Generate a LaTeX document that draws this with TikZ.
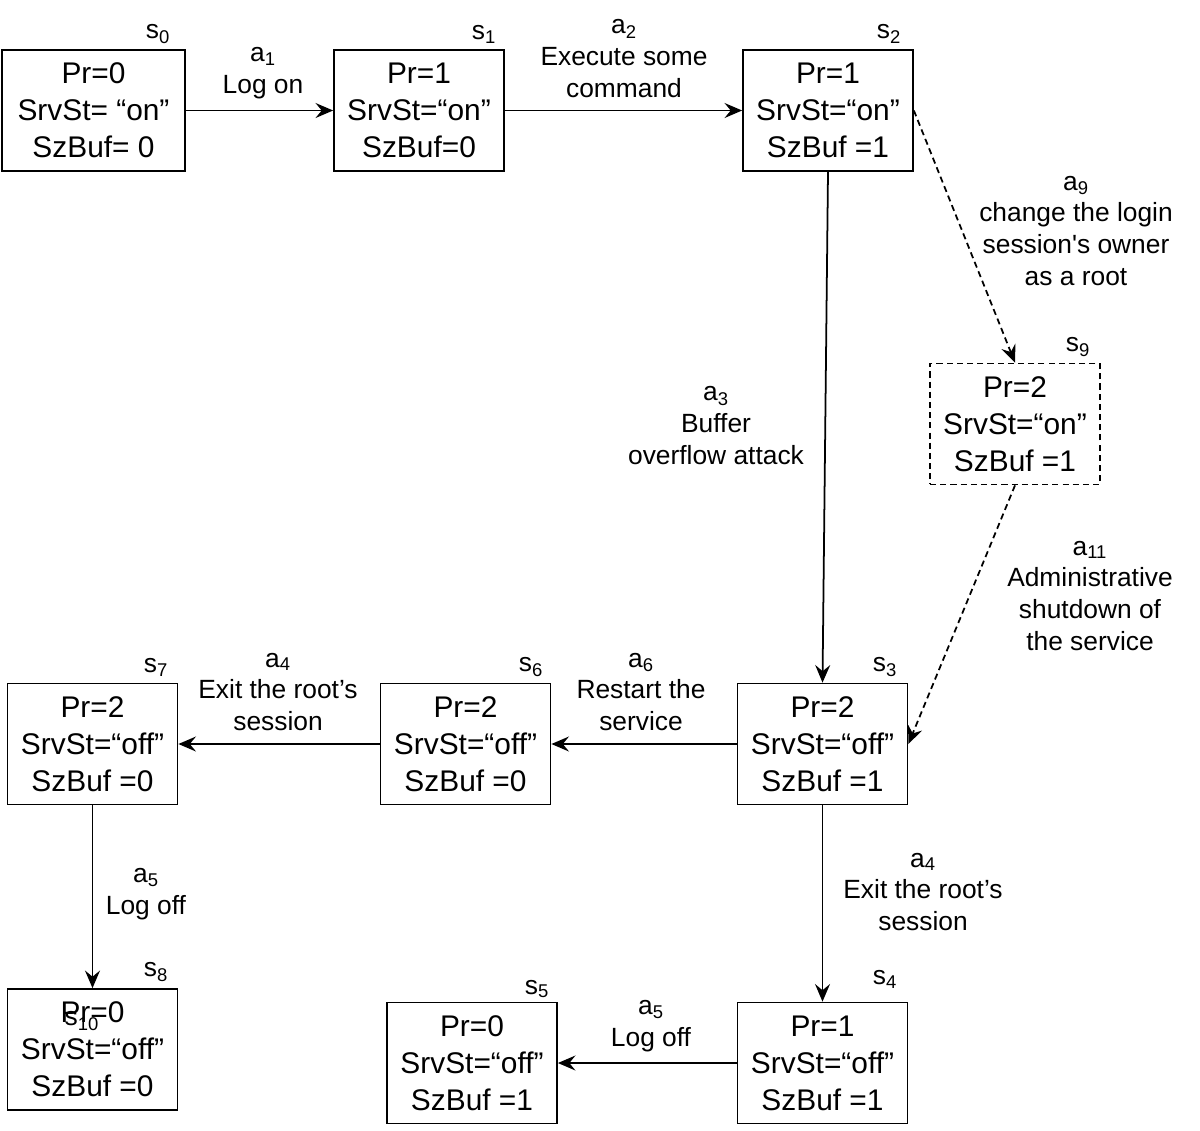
\documentclass[tikz,border=0pt]{standalone}
\usepackage{fontspec}
\setmainfont{Liberation Sans}
\usetikzlibrary{arrows.meta,
	positioning}

\begin{document}
\begin{tikzpicture}[x=0.02cm,y=-0.02cm,
	stbox/.style={draw, line width=1pt, align=center, inner sep=0pt,
		minimum width=3.4cm, minimum height=2.42cm,
		font=\fontsize{17}{21}\selectfont},
	dstbox/.style={stbox, dash pattern=on 3.5pt off 2.3pt},
	idx/.style={font=\fontsize{15}{17}\selectfont, inner sep=1pt},
	lbl/.style={align=center, font=\fontsize{15}{18.2}\selectfont, inner sep=0pt},
	tr/.style={-{Stealth[length=10pt,width=8.5pt,inset=3.5pt]}, line width=1pt},
	dtr/.style={tr, dash pattern=on 3.5pt off 2.3pt}]
\useasboundingbox (0,0) rectangle (1200,1130);

% states
\node[stbox, minimum width=3.66cm] (s0) at (93.5,110.5) {Pr=0\\SrvSt= “on”\\SzBuf= 0};
\node[stbox] (s1) at (419,110.5) {Pr=1\\SrvSt=“on”\\SzBuf=0};
\node[stbox] (s2) at (828,110.5) {Pr=1\\SrvSt=“on”\\SzBuf =1};
\node[dstbox] (s9) at (1015,424) {Pr=2\\SrvSt=“on”\\SzBuf =1};
\node[stbox] (s3) at (822.5,744) {Pr=2\\SrvSt=“off”\\SzBuf =1};
\node[stbox] (s6) at (465.5,744) {Pr=2\\SrvSt=“off”\\SzBuf =0};
\node[stbox] (s7) at (92.5,744) {Pr=2\\SrvSt=“off”\\SzBuf =0};
\node[stbox] (s8) at (92.5,1049.5) {Pr=0\\SrvSt=“off”\\SzBuf =0};
\node[stbox] (s4) at (822.5,1063) {Pr=1\\SrvSt=“off”\\SzBuf =1};
\node[stbox] (s5) at (472,1063) {Pr=0\\SrvSt=“off”\\SzBuf =1};

% state names
\node[idx] (n0) at (158,34) {s\textsubscript{0}};
\node[idx] (n1) at (484,34) {s\textsubscript{1}};
\node[idx] (n2) at (889,34) {s\textsubscript{2}};
\node[idx] (n9) at (1078,347) {s\textsubscript{9}};
\node[idx] (n3) at (885,667) {s\textsubscript{3}};
\node[idx] (n6) at (531,667) {s\textsubscript{6}};
\node[idx] (n7) at (156,667) {s\textsubscript{7}};
\node[idx] (n8) at (156,972) {s\textsubscript{8}};
\node[idx] (n4) at (885,979) {s\textsubscript{4}};
\node[idx] (n5) at (537,989) {s\textsubscript{5}};
\node[idx] (n10) at (82,1021) {s\textsubscript{10}};

% actions
\node[lbl] (l1) at (263,73) {a\textsubscript{1}\\Log on};
\node[lbl] (l2) at (624,59) {a\textsubscript{2}\\Execute some\\command};
\node[lbl] (l9) at (1076,231) {a\textsubscript{9}\\change the login\\session\textquotesingle s owner\\as a root};
\node[lbl] (l3) at (716,426) {a\textsubscript{3}\\Buffer\\overflow attack};
\node[lbl] (l11) at (1090,596) {a\textsubscript{11}\\Administrative\\shutdown of\\the service};
\node[lbl] (l6) at (641,692) {a\textsubscript{6}\\Restart the\\service};
\node[lbl] (l4a) at (278,692) {a\textsubscript{4}\\Exit the root’s\\session};
\node[lbl] (l5a) at (146,894) {a\textsubscript{5}\\Log off};
\node[lbl] (l4b) at (923,892) {a\textsubscript{4}\\Exit the root’s\\session};
\node[lbl] (l5b) at (651,1026) {a\textsubscript{5}\\Log off};

% transitions
\draw[tr] (s0) -- (s1);
\draw[tr] (s1) -- (s2);
\draw[tr] (s2.south) -- (s3.north);
\draw[dtr] (s2.east) -- (s9.north);
\draw[dtr] (s9.south) -- (s3.east);
\draw[tr] (s3) -- (s6);
\draw[tr] (s6) -- (s7);
\draw[tr] (s7) -- (s8);
\draw[tr] (s3) -- (s4);
\draw[tr] (s4.west) -- (s5.east);
\end{tikzpicture}
\end{document}
